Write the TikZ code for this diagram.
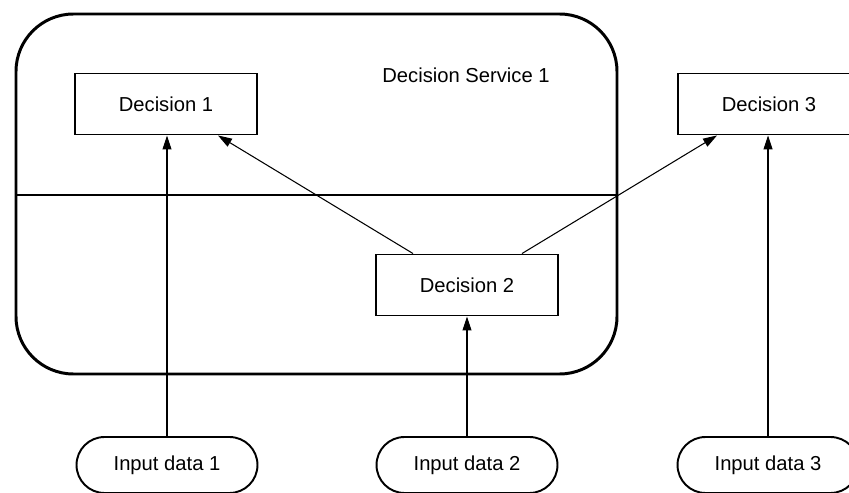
\documentclass[tikz,border=0pt]{standalone}
\usepackage{fontspec}
\setmainfont{Liberation Sans}
\usetikzlibrary{arrows.meta}

\tikzset{
  decision/.style={draw, line width=1.1pt, minimum width=3.64cm, minimum height=1.22cm, inner sep=0pt},
  inputdata/.style={draw, line width=1.1pt, rounded corners=0.56cm, minimum width=3.62cm, minimum height=1.12cm, inner sep=0pt},
  link/.style={line width=0.6pt, -{Triangle[length=0.28cm,width=0.18cm]}}
}

\begin{document}
\begin{tikzpicture}[x=0.02cm, y=-0.02cm, font=\fontsize{11.5}{13}\selectfont]
		\useasboundingbox (0,0) rectangle (849,493);
		\clip (0,0) rectangle (849,493);
		% decision service
		\draw[line width=1.7pt, rounded corners=1.15cm] (16,14) rectangle (617,374);
		\draw[line width=1.1pt] (16,195) -- (617,195);
		\node (svc) at (466,75) {Decision Service 1};
		
		\node[decision] (d1) at (166,104) {Decision 1};
		\node[decision] (d2) at (467,285) {Decision 2};
		\node[decision] (d3) at (769,104) {Decision 3};
		
		\node[inputdata] (in1) at (167,465) {Input data 1};
		\node[inputdata] (in2) at (467,465) {Input data 2};
		\node[inputdata] (in3) at (768,465) {Input data 3};
		
		\draw[link] (in1.north) -- (in1.north |- d1.south);
		\draw[link] (in2.north) -- (d2.south);
		\draw[link] (in3.north) -- (in3.north |- d3.south);
		\draw[link] ([xshift=-1.08cm]d2.north) -- ([xshift=1.04cm]d1.south);
		\draw[link] ([xshift=1.1cm]d2.north) -- ([xshift=-1.04cm]d3.south);
\end{tikzpicture}
\end{document}
